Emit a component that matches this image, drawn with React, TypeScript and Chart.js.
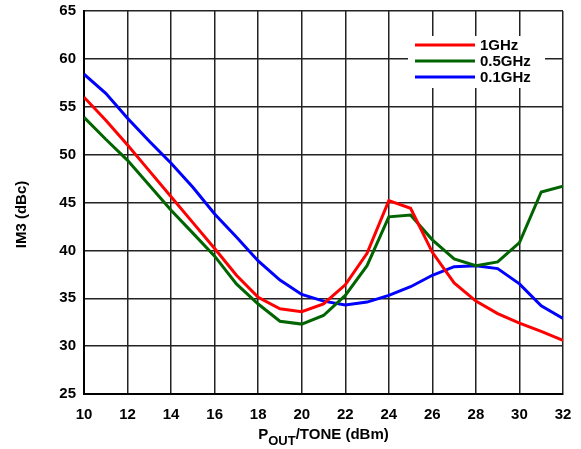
import React, { useEffect, useRef } from "react";
import { Chart, registerables } from "chart.js";

Chart.register(...registerables);

const pout = [10, 11, 12, 13, 14, 15, 16, 17, 18, 19, 20, 21, 22, 23, 24, 25, 26, 27, 28, 29, 30, 31, 32];
const im3_1GHz = [56.0, 53.6, 51.0, 48.3, 45.6, 42.9, 40.2, 37.4, 35.1, 33.9, 33.6, 34.4, 36.4, 39.7, 45.2, 44.4, 39.8, 36.6, 34.7, 33.4, 32.4, 31.55, 30.6];
const im3_05GHz = [53.9, 51.6, 49.4, 46.8, 44.2, 41.8, 39.4, 36.5, 34.4, 32.6, 32.3, 33.2, 35.3, 38.4, 43.5, 43.7, 41.1, 39.1, 38.4, 38.8, 40.8, 46.1, 46.7];
const im3_01GHz = [58.4, 56.4, 53.8, 51.4, 49.1, 46.6, 43.8, 41.4, 38.9, 36.9, 35.4, 34.7, 34.3, 34.6, 35.3, 36.2, 37.4, 38.3, 38.4, 38.1, 36.5, 34.2, 32.9];
const seriesLabels = ["1GHz", "0.5GHz", "0.1GHz"];
const seriesColors = ["#ff0000", "#006400", "#0000ff"];
const xTitleMain = "P";
const xTitleSub = "OUT";
const xTitleRest = "/TONE (dBm)";
const yTitle = "IM3 (dBc)";

const FONT = "Liberation Sans, Arial, Helvetica, sans-serif";

const overlayPlugin = {
  id: "overlay",
  afterDatasetsDraw(chart: any) {
    const { ctx, chartArea } = chart;
    ctx.save();
    const bx = chartArea.right - 155;
    const by = chartArea.top + 25;
    ctx.fillStyle = "#ffffff";
    ctx.fillRect(bx, by, 137, 52);
    ctx.font = `bold 15px ${FONT}`;
    ctx.textBaseline = "middle";
    ctx.textAlign = "left";
    chart.data.datasets.forEach((ds: any, i: number) => {
      const y = by + 9 + i * 16;
      ctx.strokeStyle = ds.borderColor;
      ctx.lineWidth = 3;
      ctx.beginPath();
      ctx.moveTo(bx + 7, y);
      ctx.lineTo(bx + 67, y);
      ctx.stroke();
      ctx.fillStyle = "#000";
      ctx.fillText(ds.label, bx + 72, y + 1);
    });
    ctx.restore();
  },
  afterDraw(chart: any) {
    const { ctx, chartArea } = chart;
    ctx.save();
    ctx.fillStyle = "#000";
    const cx = (chartArea.left + chartArea.right) / 2;
    const base = chartArea.bottom + 45;
    ctx.font = `bold 15px ${FONT}`;
    const wMain = ctx.measureText(xTitleMain).width;
    const wRest = ctx.measureText(xTitleRest).width;
    ctx.font = `bold 13px ${FONT}`;
    const wSub = ctx.measureText(xTitleSub).width;
    let x = cx - (wMain + wSub + wRest) / 2;
    ctx.textAlign = "left";
    ctx.textBaseline = "alphabetic";
    ctx.font = `bold 15px ${FONT}`;
    ctx.fillText(xTitleMain, x, base);
    x += wMain;
    ctx.font = `bold 13px ${FONT}`;
    ctx.fillText(xTitleSub, x, base + 6);
    x += wSub;
    ctx.font = `bold 15px ${FONT}`;
    ctx.fillText(xTitleRest, x, base);
    ctx.translate(22, (chartArea.top + chartArea.bottom) / 2 + 12);
    ctx.rotate(-Math.PI / 2);
    ctx.textAlign = "center";
    ctx.textBaseline = "middle";
    ctx.fillText(yTitle, 0, 0);
    ctx.restore();
  },
};

export default function App() {
  const ref = useRef<HTMLCanvasElement | null>(null);
  useEffect(() => {
    if (!ref.current) return;
    const values = [im3_1GHz, im3_05GHz, im3_01GHz];
    const chart = new Chart(ref.current, {
      type: "line",
      data: {
        datasets: values.map((vals, i) => ({
          label: seriesLabels[i],
          data: pout.map((p, j) => ({ x: p, y: vals[j] })),
          borderColor: seriesColors[i],
          backgroundColor: seriesColors[i],
          borderWidth: 3,
          pointRadius: 0,
          tension: 0,
          fill: false,
        })),
      },
      options: {
        animation: false,
        responsive: true,
        maintainAspectRatio: false,
        layout: { padding: { top: 11, right: 18, left: 0, bottom: 0 } },
        plugins: { legend: { display: false }, tooltip: { enabled: false } },
        scales: {
          x: {
            type: "linear",
            min: 10,
            max: 32,
            ticks: { stepSize: 2, color: "#000", font: { family: FONT, size: 15, weight: "bold" }, padding: 12 },
            grid: { color: "#222", lineWidth: 1.5, drawTicks: false },
            border: { color: "#000", width: 2 },
            afterFit: (s: any) => {
              s.height = 55;
              s.paddingLeft = 0;
              s.paddingRight = 0;
              s.paddingTop = 0;
              s.paddingBottom = 0;
            },
          },
          y: {
            min: 25,
            max: 65,
            ticks: { stepSize: 5, color: "#000", font: { family: FONT, size: 15, weight: "bold" }, padding: 8 },
            grid: { color: "#222", lineWidth: 1.5, drawTicks: false },
            border: { color: "#000", width: 2 },
            afterFit: (s: any) => {
              s.width = 84;
              s.paddingLeft = 0;
              s.paddingRight = 0;
              s.paddingTop = 0;
              s.paddingBottom = 0;
            },
          },
        },
      },
      plugins: [overlayPlugin],
    } as any);
    return () => chart.destroy();
  }, []);
  return (
    <div style={{ position: "absolute", left: 0, top: 0, width: 581, height: 449 }}>
      <canvas ref={ref} />
    </div>
  );
}
